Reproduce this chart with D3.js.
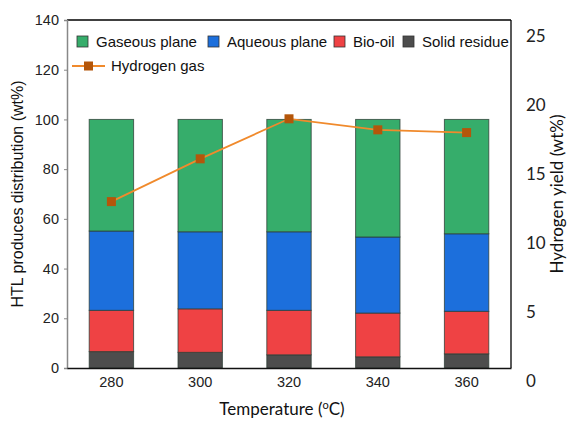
<!DOCTYPE html>
<html>
<head>
<meta charset="utf-8">
<style>
  body { margin: 0; background: #fff; }
  svg { display: block; }
  .tick text { font-family: "Liberation Sans", Arial, sans-serif; }
</style>
</head>
<body>
<div id="chart"></div>
<script src="https://cdn.jsdelivr.net/npm/d3@7"></script>
<script>
  // data
  var temps = ['280', '300', '320', '340', '360'];
  var solid = [6.6, 6.3, 5.3, 4.5, 5.7];
  var bio_oil = [16.6, 17.5, 17.9, 17.6, 17.1];
  var aqueous = [31.9, 31.0, 31.6, 30.6, 31.2];
  var gaseous = [44.9, 45.2, 45.2, 47.3, 46.0];
  var hydrogen = [13.0, 16.1, 19.0, 18.2, 18.0];
  var left_ticks = [0, 20, 40, 60, 80, 100, 120, 140];
  var right_ticks = [0, 5, 10, 15, 20, 25];

  var series_names = ['Solid residue', 'Bio-oil', 'Aqueous plane', 'Gaseous plane'];
  var clr = d3.scaleOrdinal()
      .domain(series_names)
      .range(['#4d4d4d', '#ef4244', '#1c6fdc', '#36ad6b']);

  var width = 569, height = 421;
  var plot = { left: 67, right: 511, top: 20, bottom: 368 };

  var svg = d3.select('#chart').append('svg')
      .attr('width', width)
      .attr('height', height);

  var x_scale = d3.scaleBand()
      .domain(temps)
      .range([plot.left, plot.right])
      .paddingInner(0.5)
      .paddingOuter(0.25);

  var y_scale = d3.scaleLinear()
      .domain([0, 140])
      .range([plot.bottom, plot.top]);

  // secondary axis as it sits in the figure
  var y_right = d3.scaleLinear()
      .domain([0, 25])
      .range([381, 36]);

  var table = temps.map(function(t, i){
      return { temp: t, 'Solid residue': solid[i], 'Bio-oil': bio_oil[i],
               'Aqueous plane': aqueous[i], 'Gaseous plane': gaseous[i] };
  });
  var stacked = d3.stack().keys(series_names)(table);

  svg.append('g')
      .selectAll('g')
      .data(stacked)
      .enter().append('g')
      .attr('fill', function(d){ return clr(d.key); })
      .selectAll('rect')
      .data(function(d){ return d; })
      .enter().append('rect')
      .attr('x', function(d){ return x_scale(d.data.temp); })
      .attr('width', x_scale.bandwidth())
      .attr('y', function(d){ return y_scale(d[1]); })
      .attr('height', function(d){ return y_scale(d[0]) - y_scale(d[1]); })
      .attr('stroke', '#2b3b33')
      .attr('stroke-opacity', 0.75)
      .attr('stroke-width', 1);

  // frame
  svg.append('line')
      .attr('x1', plot.left).attr('x2', plot.right)
      .attr('y1', plot.top).attr('y2', plot.top)
      .attr('stroke', '#000').attr('stroke-width', 1.3);
  svg.append('line')
      .attr('x1', plot.right).attr('x2', plot.right)
      .attr('y1', plot.top).attr('y2', plot.bottom)
      .attr('stroke', '#000').attr('stroke-width', 1.3);

  var left_axis = svg.append('g')
      .attr('transform', 'translate(' + plot.left + ',0)')
      .call(d3.axisLeft(y_scale).tickValues(left_ticks).tickSize(3).tickPadding(5));
  left_axis.select('.domain').attr('stroke', '#888').attr('stroke-width', 1.5);
  left_axis.selectAll('.tick line').attr('stroke', '#888');
  left_axis.selectAll('.tick text').attr('font-size', 14.5).attr('fill', '#222');

  var bottom_axis = svg.append('g')
      .attr('transform', 'translate(0,' + plot.bottom + ')')
      .call(d3.axisBottom(x_scale).tickSize(0).tickPadding(9));
  bottom_axis.select('.domain').attr('stroke', '#111').attr('stroke-width', 1.5);
  bottom_axis.selectAll('.tick text').attr('font-size', 14.5).attr('fill', '#222');

  svg.append('g')
      .selectAll('text')
      .data(right_ticks)
      .enter().append('text')
      .attr('x', 526)
      .attr('y', function(d){ return y_right(d); })
      .attr('dy', '0.35em')
      .attr('font-family', 'Lato, "Open Sans", sans-serif')
      .attr('font-size', 17)
      .attr('fill', '#222')
      .text(function(d){ return d; });

  // hydrogen line
  var line = d3.line()
      .x(function(d, i){ return x_scale(temps[i]) + x_scale.bandwidth() / 2; })
      .y(function(d){ return y_right(d); });

  svg.append('path')
      .datum(hydrogen)
      .attr('d', line)
      .attr('fill', 'none')
      .attr('stroke', '#f08a2c')
      .attr('stroke-width', 1.8);

  svg.selectAll('rect.marker')
      .data(hydrogen)
      .enter().append('rect')
      .attr('class', 'marker')
      .attr('x', function(d, i){ return x_scale(temps[i]) + x_scale.bandwidth() / 2 - 4.5; })
      .attr('y', function(d){ return y_right(d) - 4.5; })
      .attr('width', 9)
      .attr('height', 9)
      .attr('fill', '#b4560a');

  // axis titles
  svg.append('text')
      .attr('transform', 'translate(23,' + (plot.top + plot.bottom) / 2 + ') rotate(-90)')
      .attr('text-anchor', 'middle')
      .attr('font-family', '"Liberation Sans", Arial, sans-serif')
      .attr('font-size', 16)
      .attr('fill', '#111')
      .text('HTL produces distribution (wt%)');

  svg.append('text')
      .attr('transform', 'translate(563,' + (plot.top + plot.bottom) / 2 + ') rotate(-90)')
      .attr('text-anchor', 'middle')
      .attr('font-family', 'Lato, "Open Sans", sans-serif')
      .attr('font-size', 17)
      .attr('fill', '#111')
      .text('Hydrogen yield (wt%)');

  var xt = svg.append('text')
      .attr('x', 282)
      .attr('y', 415)
      .attr('text-anchor', 'middle')
      .attr('font-family', 'Lato, "Open Sans", sans-serif')
      .attr('font-size', 17)
      .attr('fill', '#111');
  xt.append('tspan').text('Temperature (');
  xt.append('tspan').attr('font-size', 11).attr('dy', -6).text('o');
  xt.append('tspan').attr('dy', 6).text('C)');

  // legend
  var legend_items = [
      { name: 'Gaseous plane', x: 77 },
      { name: 'Aqueous plane', x: 208 },
      { name: 'Bio-oil', x: 334 },
      { name: 'Solid residue', x: 403 }
  ];
  var legend = svg.append('g');
  legend.selectAll('rect')
      .data(legend_items)
      .enter().append('rect')
      .attr('x', function(d){ return d.x; })
      .attr('y', 36)
      .attr('width', 11)
      .attr('height', 11)
      .attr('fill', function(d){ return clr(d.name); })
      .attr('stroke', '#333')
      .attr('stroke-width', 0.8);
  legend.selectAll('text')
      .data(legend_items)
      .enter().append('text')
      .attr('x', function(d){ return d.x + 19; })
      .attr('y', 42)
      .attr('dy', '0.35em')
      .attr('font-family', '"Liberation Sans", Arial, sans-serif')
      .attr('font-size', 15)
      .attr('fill', '#111')
      .text(function(d){ return d.name; });

  legend.append('line')
      .attr('x1', 72).attr('x2', 105)
      .attr('y1', 66).attr('y2', 66)
      .attr('stroke', '#f08a2c').attr('stroke-width', 1.8);
  legend.append('rect')
      .attr('x', 84).attr('y', 61.5)
      .attr('width', 9).attr('height', 9)
      .attr('fill', '#b4560a');
  legend.append('text')
      .attr('x', 111).attr('y', 66).attr('dy', '0.35em')
      .attr('font-family', '"Liberation Sans", Arial, sans-serif')
      .attr('font-size', 15)
      .attr('fill', '#111')
      .text('Hydrogen gas');
</script>
</body>
</html>
